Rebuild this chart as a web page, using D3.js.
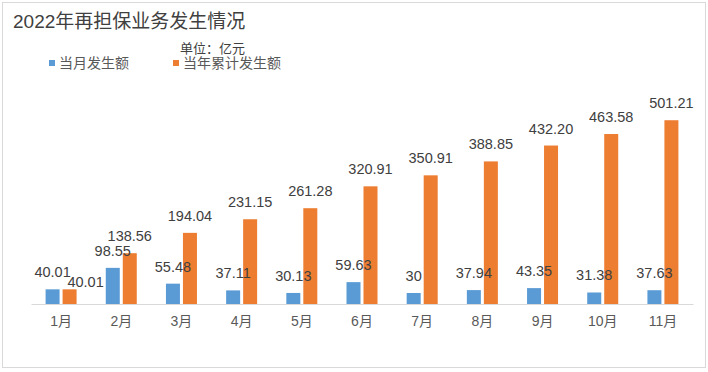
<!DOCTYPE html>
<html>
<head>
<meta charset="utf-8">
<script src="https://cdn.jsdelivr.net/npm/d3@7"></script>
<style>
  body { margin: 0; background: #fff; }
  text { font-family: "Liberation Sans", "Noto Sans CJK SC", sans-serif; }
</style>
</head>
<body>
<div id="chart"></div>
<script>
var months = ["1月", "2月", "3月", "4月", "5月", "6月", "7月", "8月", "9月", "10月", "11月"];
var monthly = [40.01, 98.55, 55.48, 37.11, 30.13, 59.63, 30, 37.94, 43.35, 31.38, 37.63];
var cumulative = [40.01, 138.56, 194.04, 231.15, 261.28, 320.91, 350.91, 388.85, 432.20, 463.58, 501.21];
var seriesNames = ["当月发生额", "当年累计发生额"];
var colors = ["#5b9bd5", "#ed7d31"];

var W = 708, H = 372;
var svg = d3.select("#chart").append("svg")
    .attr("width", W).attr("height", H);

svg.append("rect")
    .attr("x", 2.5).attr("y", 2.5)
    .attr("width", 703).attr("height", 365)
    .attr("fill", "#fff").attr("stroke", "#d9d9d9");

svg.append("text")
    .attr("x", 13).attr("y", 28)
    .attr("font-size", 19).attr("fill", "#404040")
    .text("2022年再担保业务发生情况");

svg.append("text")
    .attr("x", 180).attr("y", 53)
    .attr("font-size", 13).attr("fill", "#404040")
    .text("单位：亿元");

// legend
var legendX = [49, 173];
seriesNames.forEach(function(name, i) {
	svg.append("rect")
	    .attr("x", legendX[i]).attr("y", 60)
	    .attr("width", 6).attr("height", 6)
	    .attr("fill", colors[i]);
	svg.append("text")
	    .attr("x", legendX[i] + 10).attr("y", 68)
	    .attr("font-size", 14).attr("fill", "#595959")
	    .text(name);
});

var x = d3.scaleBand()
    .domain(months)
    .range([31, 693]);

var y = d3.scaleLinear()
    .domain([0, 600])
    .range([304, 84]);

var barW = 14, gap = 3;

var xAxis = d3.axisBottom(x).tickSize(0).tickPadding(12);
var gx = svg.append("g")
    .attr("transform", "translate(0,304)")
    .call(xAxis);
gx.select(".domain").attr("stroke", "#d9d9d9");
gx.selectAll("text")
    .attr("font-size", 14).attr("fill", "#595959")
    .style("font-family", "\"Liberation Sans\", \"Noto Sans CJK SC\", sans-serif");

var series = [monthly, cumulative];
var barsG = svg.append("g");
var labelsG = svg.append("g");

series.forEach(function(vals, s) {
	var offset = s == 0 ? -gap / 2 - barW : gap / 2;
	barsG.append("g").selectAll("rect")
	    .data(vals)
	    .enter()
	    .append("rect")
	      .attr("x", function(d, i) { return x(months[i]) + x.bandwidth() / 2 + offset; })
	      .attr("y", function(d) { return y(d); })
	      .attr("width", barW)
	      .attr("height", function(d) { return 304 - y(d); })
	      .attr("fill", colors[s]);

	labelsG.append("g").selectAll("text")
	    .data(vals)
	    .enter()
	    .append("text")
	      .attr("x", function(d, i) {
	      	var cx = x(months[i]) + x.bandwidth() / 2 + offset + barW / 2;
	      	// first cumulative label nudged right, as in the original
	      	if (s == 1 && i == 0) cx += 16;
	      	return cx;
	      })
	      .attr("y", function(d, i) {
	      	var ty = y(d) - 12;
	      	if (s == 1 && i == 0) ty += 10;
	      	return ty;
	      })
	      .attr("text-anchor", "middle")
	      .attr("font-size", 14.5)
	      .attr("fill", "#404040")
	      .text(function(d) { return s == 1 ? d.toFixed(2) : String(d); });
});
</script>
</body>
</html>
